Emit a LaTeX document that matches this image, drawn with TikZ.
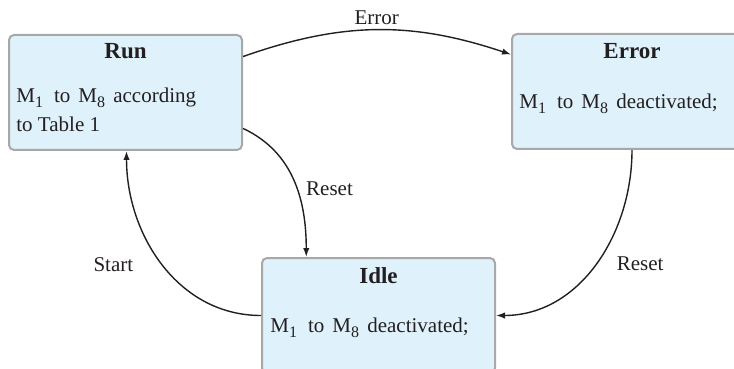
\documentclass[tikz,border=0pt]{standalone}
\usepackage{fontspec}
\setmainfont{Liberation Serif}
\usetikzlibrary{positioning,arrows.meta}
\definecolor{boxfill}{HTML}{DFF1FA}
\definecolor{boxline}{HTML}{A8A8A8}
\definecolor{ink}{HTML}{231F20}

\newcommand\Mout[1]{M\raisebox{-0.42ex}{\fontsize{8}{8}\selectfont #1}}

\tikzset{
  state/.style={fill=boxfill,draw=boxline,line width=1pt,rounded corners=2.5pt,
    minimum width=116.5pt,minimum height=57.5pt,inner sep=0pt},
  statename/.style={font=\fontsize{11.5}{14}\selectfont\bfseries,text=ink},
  statetext/.style={align=left,anchor=north west,inner sep=0pt,text=ink},
  trans/.style={draw=ink,line width=0.7pt,-{Latex[length=4.5pt,width=3.2pt]}},
}

\begin{document}
\begin{tikzpicture}[x=0.5pt,y=-0.5pt,font=\fontsize{10.5}{14.5}\selectfont]
  \useasboundingbox (0,0) rectangle (734,369);
  \draw
    (125.5,92.5) node[state] (run){}
    (632,91.5) node[state,minimum width=120pt] (error){}
    (378.5,315.5) node[state] (idle){};
  % state names and outputs
  \node[statename] (runname) at ([yshift=-8.5pt]run.north) {Run};
  \node[statename] (errorname) at ([yshift=-9pt]error.north) {Error};
  \node[statename] (idlename) at ([yshift=-9.5pt]idle.north) {Idle};
  \node[statetext] (runtext) at ([xshift=4pt,yshift=-27pt]run.north west)
    {\Mout{1}\hspace{5.5pt}to\hspace{4pt}\Mout{8}\hspace{1.5pt} according\\to Table 1};
  \node[statetext] (errortext) at ([xshift=4pt,yshift=-30.5pt]error.north west)
    {\Mout{1}\hspace{5.5pt}to\hspace{4pt}\Mout{8}\hspace{1.5pt} deactivated;};
  \node[statetext] (idletext) at ([xshift=4.5pt,yshift=-30.5pt]idle.north west)
    {\Mout{1}\hspace{5.5pt}to\hspace{4pt}\Mout{8}\hspace{1.5pt} deactivated;};
  \begin{scope}[text=ink]
    \draw[trans] (run.17) to[bend left=19] node[above=-1pt] {Error} (error.163);
    \draw[trans] (run.-17) to[out=-25,in=90] node[pos=0.56,right=1pt] {Reset} (idle.141);
    \draw[trans] (idle.west) to[out=180,in=-90] node[pos=0.5,left=11pt] {Start} (run.-89);
    \draw[trans] (error.south) to[out=-90,in=0] node[pos=0.5,right=7pt] {Reset} (idle.east);
  \end{scope}
\end{tikzpicture}
\end{document}
